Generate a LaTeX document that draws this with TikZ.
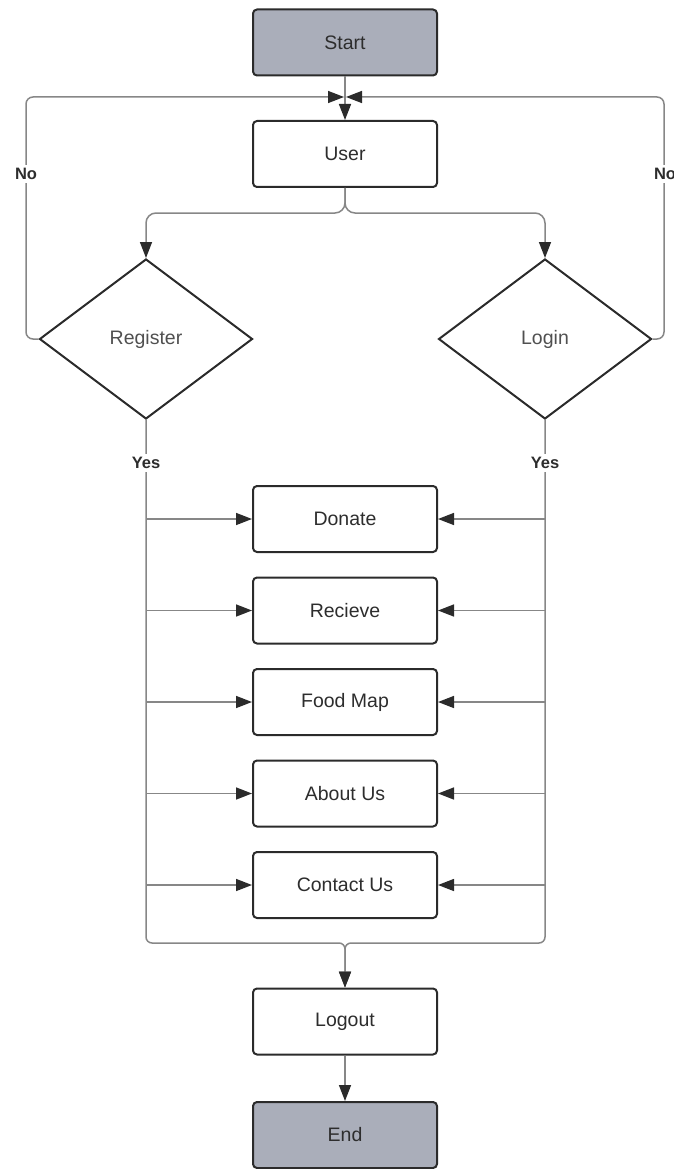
\documentclass[tikz,border=0pt]{standalone}
\usepackage{fontspec}
\setmainfont{Liberation Sans}
\usetikzlibrary{shapes.geometric,arrows.meta}
\definecolor{edge}{RGB}{43,43,43}
\definecolor{termfill}{RGB}{170,174,186}
\definecolor{wire}{RGB}{135,135,135}
\definecolor{ink}{RGB}{45,45,45}
\definecolor{softink}{RGB}{80,80,80}
\begin{document}
\begin{tikzpicture}[x=1pt,y=-1pt,
  box/.style={draw=edge, line width=2pt, rounded corners=4pt, fill=white,
    minimum width=184pt, minimum height=66pt, inner sep=0pt, text=ink,
    font=\fontsize{19.5}{22}\selectfont},
  term/.style={box, fill=termfill},
  choice/.style={diamond, draw=edge, line width=2pt, fill=white,
    minimum width=213pt, minimum height=160pt, inner sep=0pt, aspect=1.33,
    text=softink, font=\fontsize{19.5}{22}\selectfont},
  wire/.style={draw=wire, line width=1.5pt, rounded corners=7pt},
  flow/.style={wire, -{Triangle[length=16pt,width=12pt,color=edge]}},
  tag/.style={font=\fontsize{16.5}{18}\selectfont\bfseries, text=ink,
    fill=white, inner sep=3pt}]
\useasboundingbox (0,0) rectangle (674,1169);

% process boxes
\node[term] (start) at (345,42.5) {Start};
\node[box]  (user)  at (345,154) {User};
\node[choice] (reg) at (146,339) {Register};
\node[choice] (log) at (545,339) {Login};
\node[box] (don) at (345,519)   {Donate};
\node[box] (rec) at (345,610.5) {Recieve};
\node[box] (map) at (345,702)   {Food Map};
\node[box] (abt) at (345,793.5) {About Us};
\node[box] (con) at (345,885)   {Contact Us};
\node[box]  (out) at (345,1021.5) {Logout};
\node[term] (end) at (345,1135)   {End};

% join points
\coordinate (mL) at (344,97);
\coordinate (mR) at (346,97);
\coordinate (loopL) at (26,97);
\coordinate (loopR) at (664,97);
\coordinate (splitY) at (345,213);
\coordinate (busY) at (345,943);

% start to user
\draw[flow] (start) -- (user);

% "No" loops back to the user
\draw[flow] (reg.west) -| (loopL) -- (mL);
\draw[flow] (log.east) -| (loopR) -- (mR);

% user splits to register and login
\draw[flow, rounded corners=10pt] (user.south) -- (splitY) -| (reg.north);
\draw[flow, rounded corners=10pt] (user.south) -- (splitY) -| (log.north);

% "Yes" buses gathering into logout
\draw[flow, rounded corners=6pt] (reg.south) |- (busY) -- (out.north);
\draw[flow, rounded corners=6pt] (log.south) |- (busY) -- (out.north);

% branches from both buses into the pages
\foreach \b in {don,rec,map,abt,con} {
  \coordinate (\b-l) at (reg.south |- \b.west);
  \coordinate (\b-r) at (log.south |- \b.east);
  \draw[flow] (\b-l) -- (\b.west);
  \draw[flow] (\b-r) -- (\b.east);
}

% logout to end
\draw[flow] (out) -- (end);

% labels on the loops and buses
\node[tag] (noL) at (26,174) {No};
\node[tag] (noR) at (665,174) {No};
\node[tag] (yesL) at (146,463) {Yes};
\node[tag] (yesR) at (545,463) {Yes};
\end{tikzpicture}
\end{document}
